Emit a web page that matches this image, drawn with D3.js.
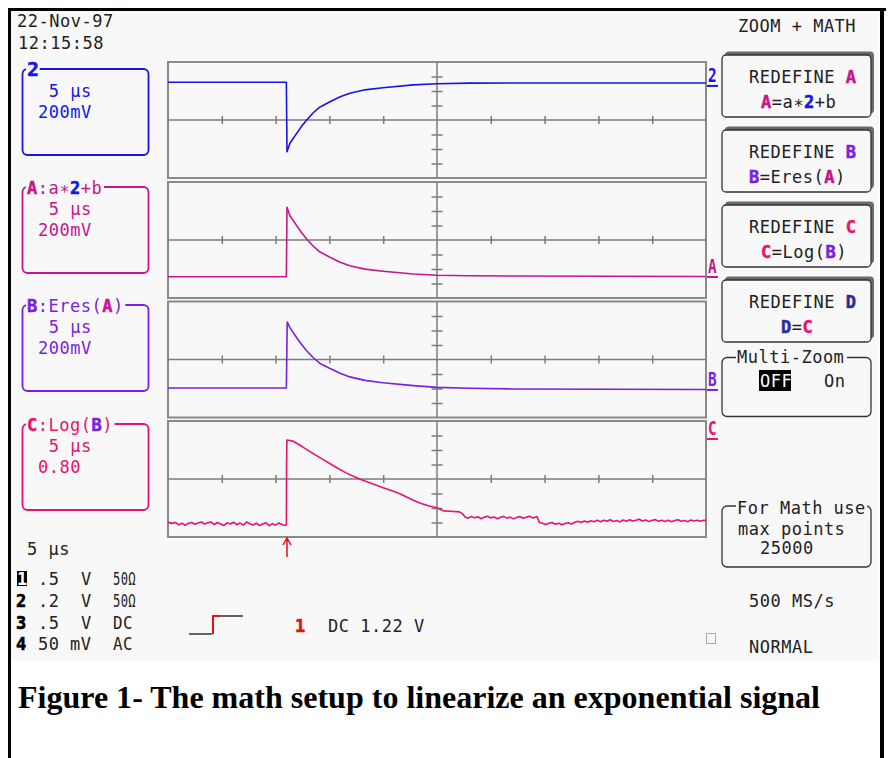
<!DOCTYPE html>
<html>
<head>
<meta charset="utf-8">
<script src="https://cdn.jsdelivr.net/npm/d3@7"></script>
<style>
  body { margin: 0; background: #fff; }
  svg text { font-family: "DejaVu Sans Mono", monospace; font-size: 17px; letter-spacing: 0.5px; }
</style>
</head>
<body>
<svg id="scope" width="888" height="758"></svg>
<script>
// time in us (5 us/div, 10 div), level in screen divisions from the centre line
var ch2 = [[0,2.6],[11.0,2.6],[11.06,-2.19],[11.33,-1.6],[11.96,-0.92],[12.4,-0.45],[12.89,0],[13.5,0.5],
  [14.13,0.9],[15.06,1.26],[16,1.6],[16.9,1.85],[18.3,2.08],[19.98,2.22],[22.8,2.42],[25,2.5],[28,2.54],[32,2.55],[50,2.55]];
var traceA = [[0,-2.53],[11.0,-2.53],[11.06,2.26],[11.33,1.67],[11.96,0.99],[12.4,0.52],[12.89,0.07],[13.5,-0.43],
  [14.13,-0.83],[15.06,-1.19],[16,-1.53],[16.9,-1.78],[18.3,-2.01],[19.98,-2.15],[22.8,-2.35],[25,-2.43],[28,-2.47],[32,-2.48],[50,-2.52]];
var traceB = [[0,-1.97],[11.0,-1.97],[11.08,2.59],[11.33,2.2],[11.96,1.5],[12.4,1.05],[12.89,0.6],[13.5,0.12],
  [14.13,-0.27],[15.06,-0.62],[16,-0.95],[16.9,-1.2],[18.3,-1.44],[19.98,-1.6],[22.8,-1.8],[25,-1.92],[28,-1.98],[32,-2.03],[50,-2.07]];
var traceC = [[0,-2.98],[0.35,-3.06],[0.7,-3.0],[1.0,-3.16],[1.3,-3.04],[1.6,-3.2],[1.9,-3.05],[2.2,-3.0],[2.5,-3.12],
  [2.8,-3.04],[3.1,-2.97],[3.4,-3.1],[3.7,-3.02],[4.0,-2.96],[4.3,-3.14],[4.6,-3.0],[4.9,-3.1],[5.2,-3.2],[5.5,-3.02],
  [5.8,-3.1],[6.1,-2.98],[6.4,-3.15],[6.7,-3.04],[7.0,-3.18],[7.3,-2.97],[7.6,-3.08],[7.9,-3.17],[8.2,-3.04],[8.5,-3.21],
  [8.8,-3.1],[9.1,-3.02],[9.4,-3.22],[9.7,-3.08],[10.0,-3.18],[10.3,-3.03],[10.6,-3.14],[10.9,-3.2],[11.0,-3.15],
  [11.02,0.97],[11.05,2.69],[11.6,2.62],[12.5,2.22],[13.5,1.75],[14.5,1.3],[15.5,0.86],[16.5,0.44],[17.8,0],[19.0,-0.32],
  [20.0,-0.6],[21.0,-0.86],[21.6,-1.04],[22.5,-1.36],[23.4,-1.66],[24.2,-1.85],[25.0,-1.98],[25.6,-2.2],[26.2,-2.22],
  [27.1,-2.27],[27.4,-2.42],[27.6,-2.62],[27.9,-2.7],[28.2,-2.58],[28.5,-2.68],[28.8,-2.6],[29.1,-2.74],[29.4,-2.63],
  [29.7,-2.57],[30.0,-2.69],[30.3,-2.62],[30.6,-2.74],[30.9,-2.64],[31.2,-2.58],[31.5,-2.7],[31.8,-2.63],[32.1,-2.75],
  [32.4,-2.66],[32.7,-2.59],[33.0,-2.71],[33.3,-2.63],[33.6,-2.57],[33.9,-2.68],[34.3,-2.6],[34.5,-2.98],[34.8,-3.06],
  [35.1,-3.14],[35.4,-3.05],[35.7,-3.0],[36.0,-3.12],[36.3,-3.05],[36.6,-3.16],[36.9,-3.07],[37.2,-3.02],[37.5,-3.1],
  [37.8,-2.98],[38.1,-2.92],[38.4,-3.0],[38.7,-2.9],[39.0,-2.98],[39.3,-2.88],[39.6,-2.95],[39.9,-2.85],[40.2,-2.95],
  [40.5,-2.84],[40.8,-2.92],[41.1,-2.81],[41.4,-2.93],[41.7,-2.86],[42.0,-2.96],[42.3,-2.83],[42.6,-2.91],[42.9,-2.81],
  [43.2,-2.9],[43.5,-2.85],[43.8,-2.78],[44.1,-2.9],[44.4,-2.83],[44.7,-2.94],[45.0,-2.85],[45.3,-2.8],[45.6,-2.91],
  [45.9,-2.84],[46.2,-2.93],[46.5,-2.85],[46.8,-2.95],[47.1,-2.86],[47.4,-2.81],[47.7,-2.92],[48.0,-2.86],[48.3,-2.95],
  [48.6,-2.83],[48.9,-2.9],[49.2,-2.85],[49.5,-2.92],[49.8,-2.84],[50,-2.87]];

var traceNames = ["2", "A", "B", "C"];
var markerLevel = [2.35, -2.55, -2.1, 2.76];
var divTicksX = [5, 10, 15, 20, 30, 35, 40, 45];
var divTicksY = [-3, -2, -1, 1, 2, 3];
var triggerTime = 11.06;

var BLUE = "#1515e8", MAGA = "#c4168f", VIOL = "#7b1fe0", PINK = "#e8136d", NAVY = "#2b2b9e";
var INK = "#222", GRID = "#7c7c7c", BG = "#f8f8f8";
var colors = [BLUE, MAGA, VIOL, PINK];
var traces = [ch2, traceA, traceB, traceC];

var svg = d3.select("#scope");

// screen and frame
svg.append("rect").attr("x", 0).attr("y", 0).attr("width", 888).attr("height", 758).attr("fill", "#fff");
svg.append("rect").attr("x", 11).attr("y", 11).attr("width", 868).attr("height", 650).attr("fill", BG);
svg.append("rect").attr("x", 8).attr("y", 8).attr("width", 878).attr("height", 3).attr("fill", "#000");
svg.append("rect").attr("x", 8).attr("y", 8).attr("width", 3).attr("height", 750).attr("fill", "#000");
svg.append("rect").attr("x", 880).attr("y", 8).attr("width", 4).attr("height", 750).attr("fill", "#000");

var x = d3.scaleLinear().domain([0, 50]).range([168, 706]);
var panelTop = [62, 182, 301.5, 421];

function rich(g, px, py, parts) {
  var t = g.append("text").attr("x", px).attr("y", py);
  parts.forEach(function(p) {
    var s = t.append("tspan").text(p[0]).attr("fill", p[1] || INK);
    if (p[2]) s.attr("font-weight", "bold").attr("stroke", p[1]).attr("stroke-width", 0.5);
  });
  return t;
}

// panels
panelTop.forEach(function(top, i) {
  var y = d3.scaleLinear().domain([-4, 4]).range([top + 116, top]);
  var g = svg.append("g");
  g.append("rect").attr("x", 168).attr("y", top).attr("width", 538).attr("height", 116)
    .attr("fill", "none").attr("stroke", "#8a8a8a").attr("stroke-width", 2);
  g.append("line").attr("x1", 168).attr("x2", 706).attr("y1", y(0)).attr("y2", y(0))
    .attr("stroke", GRID).attr("stroke-width", 1.5);
  g.append("line").attr("x1", x(25)).attr("x2", x(25)).attr("y1", top).attr("y2", top + 116)
    .attr("stroke", GRID).attr("stroke-width", 1.5);
  g.append("g").attr("transform", "translate(0," + (y(0) - 4) + ")").attr("color", GRID)
    .call(d3.axisBottom(x).tickValues(divTicksX).tickSizeInner(8).tickSizeOuter(0).tickFormat(""))
    .call(function(a) { a.select(".domain").remove(); a.selectAll("line").attr("stroke-width", 1.5); });
  g.append("g").attr("transform", "translate(" + (x(25) - 5.5) + ",0)").attr("color", GRID)
    .call(d3.axisRight(y).tickValues(divTicksY).tickSizeInner(11).tickSizeOuter(0).tickFormat(""))
    .call(function(a) { a.select(".domain").remove(); a.selectAll("line").attr("stroke-width", 1.5); });

  var line = d3.line().x(function(d) { return x(d[0]); }).y(function(d) { return y(d[1]); });
  g.append("path").datum(traces[i]).attr("d", line).attr("fill", "none")
    .attr("stroke", colors[i]).attr("stroke-width", 1.6).attr("stroke-linejoin", "round");

  // trace marker on the right edge
  var my = y(markerLevel[i]);
  g.append("line").attr("x1", 707).attr("x2", 718).attr("y1", my).attr("y2", my)
    .attr("stroke", colors[i]).attr("stroke-width", 2);
  g.append("text").attr("x", 708).attr("y", my - 4).text(traceNames[i])
    .attr("font-weight", "bold").attr("fill", colors[i]).style("font-size", "20px")
    .attr("textLength", 9).attr("lengthAdjust", "spacingAndGlyphs");
});

// left trace boxes
var boxTop = [69, 187, 305, 424];
var boxLabels = [
  [["2", BLUE, 1]],
  [["A", MAGA, 1], [":a∗", MAGA], ["2", BLUE, 1], ["+b", MAGA]],
  [["B", VIOL, 1], [":Eres(", VIOL], ["A", MAGA, 1], [")", VIOL]],
  [["C", PINK, 1], [":Log(", PINK], ["B", VIOL, 1], [")", PINK]]
];
var boxScale = ["200mV", "200mV", "200mV", "0.80"];
boxTop.forEach(function(top, i) {
  var g = svg.append("g");
  g.append("rect").attr("x", 22.5).attr("y", top).attr("width", 126).attr("height", 86).attr("rx", 5)
    .attr("fill", "none").attr("stroke", colors[i]).attr("stroke-width", 1.8);
  var nChars = d3.sum(boxLabels[i], function(p) { return p[0].length; });
  g.append("rect").attr("x", 26).attr("y", top - 3).attr("width", nChars * 10.7 + 3).attr("height", 6).attr("fill", BG);
  var lab = rich(g, 27, top + 7, boxLabels[i]);
  if (i === 0) lab.style("font-size", "20px");
  g.append("text").attr("x", 38).attr("y", top + 27.5).attr("fill", colors[i]).attr("xml:space", "preserve").text(" 5 µs");
  g.append("text").attr("x", 38).attr("y", top + 49).attr("fill", colors[i]).text(boxScale[i]);
});

// header
svg.append("text").attr("x", 17).attr("y", 27).attr("fill", INK).text("22-Nov-97");
svg.append("text").attr("x", 18).attr("y", 49).attr("fill", INK).text("12:15:58");
svg.append("text").attr("x", 738).attr("y", 32).attr("fill", INK).attr("xml:space", "preserve").text("ZOOM + MATH");

// right menu
var menuTop = [55, 130, 205, 280];
var menuLetter = [["A", MAGA], ["B", VIOL], ["C", PINK], ["D", NAVY]];
var menuLine = [
  [761, [["A", MAGA, 1], ["=a∗"], ["2", BLUE, 1], ["+b"]]],
  [749, [["B", VIOL, 1], ["=Eres("], ["A", MAGA, 1], [")"]]],
  [761, [["C", PINK, 1], ["=Log("], ["B", VIOL, 1], [")"]]],
  [781, [["D", NAVY, 1], ["="], ["C", PINK, 1]]]
];
menuTop.forEach(function(top, i) {
  var g = svg.append("g");
  g.append("rect").attr("x", 725).attr("y", top - 3.5).attr("width", 149).attr("height", 62).attr("rx", 4).attr("fill", "#6a6a6a");
  g.append("rect").attr("x", 722).attr("y", top).attr("width", 149).attr("height", 62).attr("rx", 4)
    .attr("fill", BG).attr("stroke", "#333").attr("stroke-width", 1.3);
  rich(g, 749, top + 28, [["REDEFINE "], [menuLetter[i][0], menuLetter[i][1], 1]]).attr("xml:space", "preserve");
  rich(g, menuLine[i][0], top + 53, menuLine[i][1]);
});

// multi-zoom box
var mz = svg.append("g");
mz.append("rect").attr("x", 722).attr("y", 357.5).attr("width", 149).attr("height", 59).attr("rx", 5)
  .attr("fill", "none").attr("stroke", "#333").attr("stroke-width", 1.3);
mz.append("rect").attr("x", 736).attr("y", 354).attr("width", 111).attr("height", 7).attr("fill", BG);
mz.append("text").attr("x", 737).attr("y", 363).attr("fill", INK).text("Multi-Zoom");
mz.append("rect").attr("x", 759).attr("y", 370).attr("width", 32).attr("height", 21).attr("fill", "#000");
mz.append("text").attr("x", 760).attr("y", 387).attr("fill", "#fff").text("OFF");
mz.append("text").attr("x", 824).attr("y", 387).attr("fill", INK).text("On");

// for math box
var fm = svg.append("g");
fm.append("rect").attr("x", 722).attr("y", 506).attr("width", 149).attr("height", 61).attr("rx", 5)
  .attr("fill", "none").attr("stroke", "#333").attr("stroke-width", 1.3);
fm.append("rect").attr("x", 736).attr("y", 502).attr("width", 131).attr("height", 8).attr("fill", BG);
fm.append("text").attr("x", 737).attr("y", 514).attr("fill", INK).attr("xml:space", "preserve").text("For Math use");
fm.append("text").attr("x", 738).attr("y", 535).attr("fill", INK).attr("xml:space", "preserve").text("max points");
fm.append("text").attr("x", 760).attr("y", 554).attr("fill", INK).text("25000");

svg.append("text").attr("x", 749).attr("y", 607).attr("fill", INK).attr("xml:space", "preserve").text("500 MS/s");
svg.append("rect").attr("x", 706.5).attr("y", 633.5).attr("width", 9).attr("height", 10)
  .attr("fill", "none").attr("stroke", "#aaa").attr("stroke-width", 1);
svg.append("text").attr("x", 749).attr("y", 653).attr("fill", INK).text("NORMAL");

// bottom left: timebase and channel settings
svg.append("text").attr("x", 27).attr("y", 555).attr("fill", INK).attr("xml:space", "preserve").text("5 µs");
var chanRows = [["1", ".5", "V", "50Ω"], ["2", ".2", "V", "50Ω"], ["3", ".5", "V", "DC"], ["4", "50", "mV", "AC"]];
var rowBase = [585, 607, 628.5, 650];
chanRows.forEach(function(r, i) {
  var yb = rowBase[i];
  if (i === 0) {
    svg.append("rect").attr("x", 17).attr("y", yb - 14).attr("width", 10).attr("height", 15).attr("fill", "#000");
    svg.append("text").attr("x", 17).attr("y", yb).attr("fill", "#fff").attr("font-weight", "bold").text(r[0]);
  } else {
    svg.append("text").attr("x", 16).attr("y", yb).attr("fill", "#000").attr("font-weight", "bold")
      .attr("stroke", "#000").attr("stroke-width", 0.6).text(r[0]);
  }
  svg.append("text").attr("x", 38).attr("y", yb).attr("fill", INK).text(r[1]);
  svg.append("text").attr("x", r[2] === "V" ? 81 : 70).attr("y", yb).attr("fill", INK).text(r[2]);
  svg.append("text").attr("x", 113).attr("y", yb).attr("fill", INK)
    .attr("textLength", r[3].length === 3 ? 23 : 20).attr("lengthAdjust", "spacingAndGlyphs").text(r[3]);
});

// trigger symbol and level
svg.append("path").attr("d", "M189,634H212").attr("stroke", "#333").attr("stroke-width", 1.5).attr("fill", "none");
svg.append("path").attr("d", "M213,634V616H220").attr("stroke", "#e81010").attr("stroke-width", 2).attr("fill", "none");
svg.append("path").attr("d", "M220,616H243").attr("stroke", "#333").attr("stroke-width", 1.5).attr("fill", "none");
svg.append("text").attr("x", 295).attr("y", 632).attr("fill", "#e81010").attr("font-weight", "bold")
  .attr("stroke", "#e81010").attr("stroke-width", 0.6).text("1");
svg.append("text").attr("x", 328).attr("y", 632).attr("fill", INK).attr("xml:space", "preserve").text("DC 1.22 V");

// trigger position arrow
var tx = x(triggerTime);
svg.append("path").attr("d", "M" + tx + ",557V539M" + (tx - 4) + ",545L" + tx + ",538L" + (tx + 4) + ",545")
  .attr("stroke", "#e81010").attr("stroke-width", 1.5).attr("fill", "none");

// caption
svg.append("text").attr("x", 18).attr("y", 708).attr("fill", "#000")
  .style("font-family", '"Liberation Serif", "Times New Roman", serif').style("font-size", "31px")
  .style("font-weight", "bold").style("letter-spacing", "0px")
  .attr("textLength", 802).attr("lengthAdjust", "spacingAndGlyphs")
  .text("Figure 1- The math setup to linearize an exponential signal");
</script>
</body>
</html>
